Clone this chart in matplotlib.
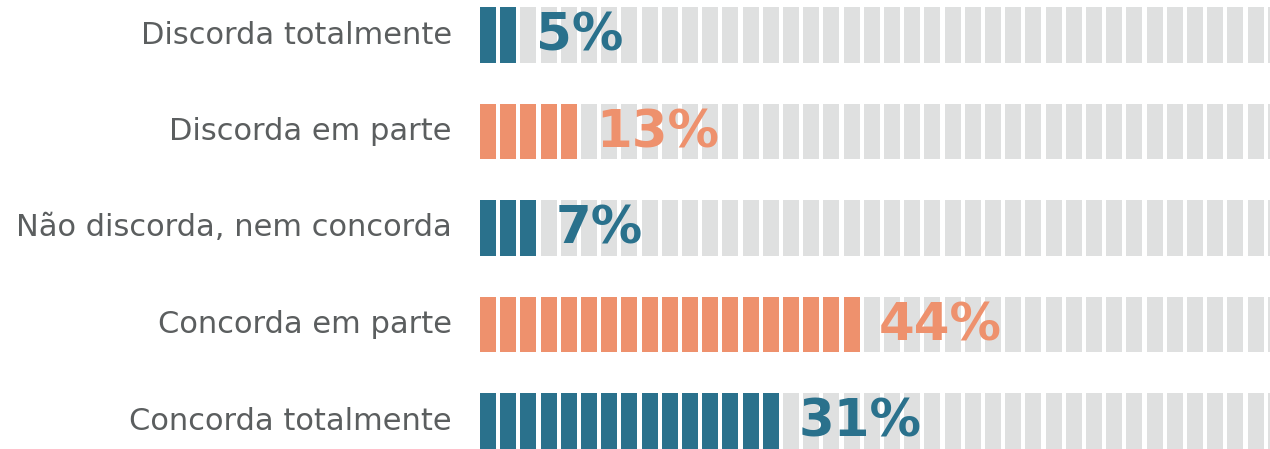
import matplotlib.pyplot as plt

categorias = ["Discorda totalmente", "Discorda em parte", "Não discorda, nem concorda",
              "Concorda em parte", "Concorda totalmente"]
valores = [5, 13, 7, 44, 31]
blocos_cheios = [2, 5, 3, 19, 15]   # blocos coloridos em cada linha
total_blocos = 40
cores = ["#2a718c", "#ee916d", "#2a718c", "#ee916d", "#2a718c"]
cinza = "#dfe0e0"
cor_texto = "#5b5e5f"

fig = plt.figure(figsize=(12.7, 4.49), dpi=100)
ax = fig.add_axes([480 / 1270, 0, 790 / 1270, 1])
ax.set_xlim(0, 790 / 20.2)
ax.set_ylim(4 + 28 / 96.5, -35 / 96.5)
ax.axis("off")

larg = 0.79
alt = 0.58
for i, (cat, v, n, cor) in enumerate(zip(categorias, valores, blocos_cheios, cores)):
    for j in range(total_blocos):
        c = cor if j < n else cinza
        ax.barh(i, larg, left=j, height=alt, color=c, linewidth=0)
    ax.text(-1.4, i, cat, ha="right", va="center", fontsize=22,
            color=cor_texto, clip_on=False)
    ax.text(n + 0.75, i + 0.02, f"{v}%", ha="left", va="center", fontsize=37,
            fontweight="heavy", color=cor, clip_on=False)

fig.savefig("out.png", dpi=100)
